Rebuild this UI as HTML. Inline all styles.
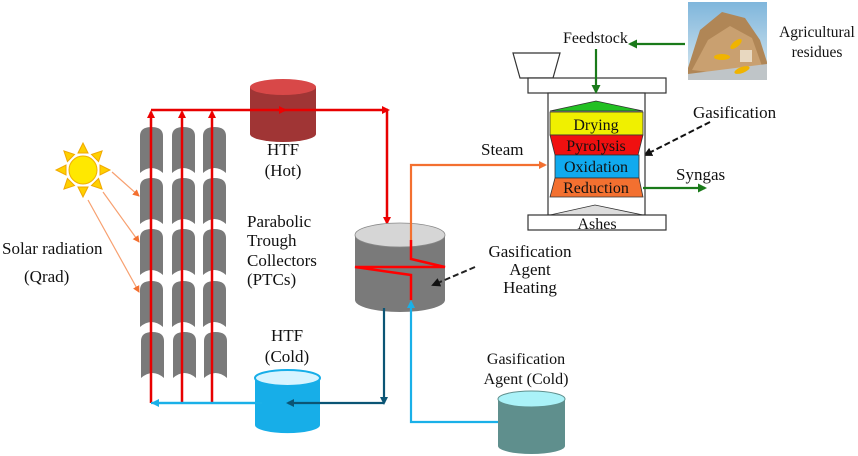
<!DOCTYPE html>
<html><head><meta charset="utf-8"><style>
html,body{margin:0;padding:0;background:#fff;}
svg{display:block;}
text{font-family:"Liberation Serif",serif;fill:#111;}
</style></head><body>
<svg width="858" height="456" viewBox="0 0 858 456" xmlns="http://www.w3.org/2000/svg">
<defs>
<marker id="ar" markerWidth="8" markerHeight="8" refX="6" refY="4" orient="auto" markerUnits="userSpaceOnUse"><path d="M0,0 L8,4 L0,8 Z" fill="#e00"/></marker>
<marker id="ao" markerWidth="8" markerHeight="8" refX="6" refY="4" orient="auto" markerUnits="userSpaceOnUse"><path d="M0,0 L8,4 L0,8 Z" fill="#f37030"/></marker>
<marker id="ag" markerWidth="9" markerHeight="9" refX="7" refY="4.5" orient="auto" markerUnits="userSpaceOnUse"><path d="M0,0 L9,4.5 L0,9 Z" fill="#1a7a1a"/></marker>
<marker id="ab" markerWidth="8" markerHeight="8" refX="6" refY="4" orient="auto" markerUnits="userSpaceOnUse"><path d="M0,0 L8,4 L0,8 Z" fill="#1ab0e8"/></marker>
<marker id="ad" markerWidth="8" markerHeight="8" refX="6" refY="4" orient="auto" markerUnits="userSpaceOnUse"><path d="M0,0 L8,4 L0,8 Z" fill="#0b5575"/></marker>
<marker id="ak" markerWidth="9" markerHeight="9" refX="7" refY="4.5" orient="auto" markerUnits="userSpaceOnUse"><path d="M0,0 L9,4.5 L0,9 Z" fill="#111"/></marker>
<marker id="as" markerWidth="7" markerHeight="7" refX="6" refY="3.5" orient="auto" markerUnits="userSpaceOnUse"><path d="M0,0 L7,3.5 L0,7 Z" fill="#f37030"/></marker>
<path id="col" d="M0,9 Q0,0 11.5,0 Q23,0 23,9 L23,46 Q11.5,36 0,46 Z" fill="#7a7a7a"/>
<linearGradient id="sky" x1="0" y1="0" x2="0" y2="1"><stop offset="0" stop-color="#7fb6dc"/><stop offset="1" stop-color="#d9e8ef"/></linearGradient>
</defs>

<g>
<use href="#col" x="140" y="127"/><use href="#col" x="172" y="127"/><use href="#col" x="203" y="127"/>
<use href="#col" x="140" y="178"/><use href="#col" x="172" y="178"/><use href="#col" x="203" y="178"/>
<use href="#col" x="140" y="229"/><use href="#col" x="172" y="229"/><use href="#col" x="203" y="229"/>
<use href="#col" x="140" y="281"/><use href="#col" x="172" y="281"/><use href="#col" x="203" y="281"/>
<use href="#col" x="141" y="332"/><use href="#col" x="173" y="332"/><use href="#col" x="204" y="332"/>
</g>

<g fill="#ffd000" stroke="#f0a800" stroke-width="1">
<g transform="translate(83,170)">
<polygon points="-5,-17 5,-17 0,-27"/><polygon points="-5,17 5,17 0,27"/>
<polygon points="-17,-5 -17,5 -27,0"/><polygon points="17,-5 17,5 27,0"/>
<g transform="rotate(45)"><polygon points="-5,-17 5,-17 0,-27"/><polygon points="-5,17 5,17 0,27"/><polygon points="-17,-5 -17,5 -27,0"/><polygon points="17,-5 17,5 27,0"/></g>
<circle r="14" fill="#ffe800" stroke="#f0b000"/>
</g></g>
<g stroke="#f7a070" stroke-width="1.2" fill="none">
<line x1="112" y1="172" x2="139" y2="196" marker-end="url(#as)"/>
<line x1="103" y1="192" x2="139" y2="242" marker-end="url(#as)"/>
<line x1="88" y1="200" x2="139" y2="292" marker-end="url(#as)"/>
</g>

<path d="M250,87 L250,134 A33,8 0 0 0 316,134 L316,87 Z" fill="#a03535"/>
<ellipse cx="283" cy="87" rx="33" ry="8" fill="#d84848"/>

<g stroke="#e80000" stroke-width="2.5" fill="none">
<line x1="151" y1="403" x2="151" y2="112" marker-end="url(#ar)"/>
<line x1="182" y1="403" x2="182" y2="112" marker-end="url(#ar)"/>
<line x1="212" y1="403" x2="212" y2="112" marker-end="url(#ar)"/>
<line x1="151" y1="110" x2="285" y2="110" marker-end="url(#ar)"/>
<line x1="283" y1="110" x2="388" y2="110" marker-end="url(#ar)"/>
<line x1="387" y1="110" x2="387" y2="223" marker-end="url(#ar)"/>
</g>

<path d="M355,235 L355,300 A45,12 0 0 0 445,300 L445,235 Z" fill="#7a7a7a"/>
<ellipse cx="400" cy="235" rx="45" ry="12" fill="#d6d6d6" stroke="#888" stroke-width="0.8"/>
<g stroke="#f00" stroke-width="2.5" fill="none">
<polyline points="411,240 411,259 445,267 355,267 411,275 411,300"/>
</g>
<polyline points="411,240 411,165 545,165" fill="none" stroke="#f37030" stroke-width="2.2" marker-end="url(#ao)"/>
<polyline points="384,308 384,403" fill="none" stroke="#0b5575" stroke-width="2.2" marker-end="url(#ad)"/>
<path d="M255,378 L255,425 A32,8 0 0 0 320,425 L320,378 Z" fill="#17aee8"/>
<ellipse cx="287.5" cy="378" rx="32.5" ry="8" fill="#d8f4ff" stroke="#17aee8" stroke-width="2"/>
<line x1="151" y1="403" x2="255" y2="403" stroke="#1ab0e8" stroke-width="2.2"/>
<line x1="262" y1="403" x2="153" y2="403" stroke="#1ab0e8" stroke-width="2.2" marker-end="url(#ab)"/>
<line x1="384" y1="403" x2="288" y2="403" stroke="#0b5575" stroke-width="2.2" marker-end="url(#ad)"/>
<polyline points="498,422 411,422 411,302" fill="none" stroke="#1ab0e8" stroke-width="2.2" marker-end="url(#ab)"/>
<path d="M498,399 L498,446 A33.5,8 0 0 0 565,446 L565,399 Z" fill="#5f8f8d"/>
<ellipse cx="531.5" cy="399" rx="33.5" ry="8" fill="#aaf2f8" stroke="#5f8f8d" stroke-width="1"/>

<line x1="475" y1="267" x2="433" y2="285" stroke="#222" stroke-width="2" stroke-dasharray="6,3" marker-end="url(#ak)"/>
<line x1="710" y1="122" x2="645" y2="155" stroke="#111" stroke-width="2" stroke-dasharray="6,3" marker-end="url(#ak)"/>

<polygon points="513,53 560,53 553,78 520,78" fill="#fff" stroke="#333" stroke-width="1.2"/>
<rect x="528" y="78" width="138" height="15" fill="#fff" stroke="#333" stroke-width="1.2"/>
<rect x="548" y="93" width="97" height="122" fill="#fff" stroke="#333" stroke-width="1.2"/>
<polygon points="550,111 596,101 643,111" fill="#22c022" stroke="#333" stroke-width="0.8"/>
<rect x="550" y="112" width="93" height="23" fill="#f0f000" stroke="#333" stroke-width="0.8"/>
<polygon points="550,135 643,135 638,155 555,155" fill="#f01010" stroke="#333" stroke-width="0.8"/>
<rect x="555" y="155" width="84" height="23" fill="#10aaee" stroke="#333" stroke-width="0.8"/>
<polygon points="555,178 639,178 643,197 550,197" fill="#f37030" stroke="#333" stroke-width="0.8"/>
<polygon points="550,215 595,205 643,215" fill="#ddd" stroke="#333" stroke-width="0.8"/>
<rect x="528" y="215" width="138" height="15" fill="#fff" stroke="#333" stroke-width="1.2"/>
<line x1="685" y1="44" x2="630" y2="44" stroke="#1a7a1a" stroke-width="2.2" marker-end="url(#ag)"/>
<line x1="596" y1="49" x2="596" y2="92" stroke="#1a7a1a" stroke-width="2.2" marker-end="url(#ag)"/>
<line x1="643" y1="188" x2="705" y2="188" stroke="#1a7a1a" stroke-width="2.2" marker-end="url(#ag)"/>

<rect x="688" y="2" width="79" height="78" fill="url(#sky)"/>
<polygon points="688,68 700,30 722,12 745,18 760,40 767,62 767,80 688,80" fill="#b08656"/>
<polygon points="692,70 708,40 730,26 752,38 762,66 740,76" fill="#c9a070"/>
<polygon points="688,74 767,64 767,80 688,80" fill="#bfc5c8"/>
<ellipse cx="722" cy="57" rx="8" ry="3" fill="#f0b400"/>
<ellipse cx="736" cy="44" rx="7" ry="3" fill="#f0b400" transform="rotate(-40 736 44)"/>
<ellipse cx="742" cy="70" rx="8" ry="3" fill="#f0b400" transform="rotate(-20 742 70)"/>
<rect x="740" y="50" width="12" height="12" fill="#e8d8c0"/>

<g font-size="17">
<text x="2" y="254">Solar radiation</text>
<text x="24" y="282">(Qrad)</text>
<text x="283" y="155" text-anchor="middle">HTF</text>
<text x="283" y="176" text-anchor="middle">(Hot)</text>
<text x="247" y="227">Parabolic</text>
<text x="247" y="246">Trough</text>
<text x="247" y="266">Collectors</text>
<text x="247" y="285">(PTCs)</text>
<text x="287" y="341" text-anchor="middle">HTF</text>
<text x="287" y="362" text-anchor="middle">(Cold)</text>
<text x="530" y="257" text-anchor="middle">Gasification</text>
<text x="530" y="275" text-anchor="middle">Agent</text>
<text x="530" y="293" text-anchor="middle">Heating</text>
<text x="481" y="155">Steam</text>
<text x="693" y="118">Gasification</text>
<text x="676" y="180">Syngas</text>
</g>
<g font-size="16">
<text x="526" y="364" text-anchor="middle">Gasification</text>
<text x="526" y="384" text-anchor="middle">Agent (Cold)</text>
<text x="563" y="43">Feedstock</text>
<text x="596" y="130" text-anchor="middle">Drying</text>
<text x="596" y="151" text-anchor="middle">Pyrolysis</text>
<text x="596" y="172" text-anchor="middle">Oxidation</text>
<text x="596" y="193" text-anchor="middle">Reduction</text>
<text x="597" y="229" text-anchor="middle">Ashes</text>
</g>
<g font-size="15.5">
<text x="817" y="37" text-anchor="middle">Agricultural</text>
<text x="817" y="57" text-anchor="middle">residues</text>
</g>
</svg>
</body></html>
